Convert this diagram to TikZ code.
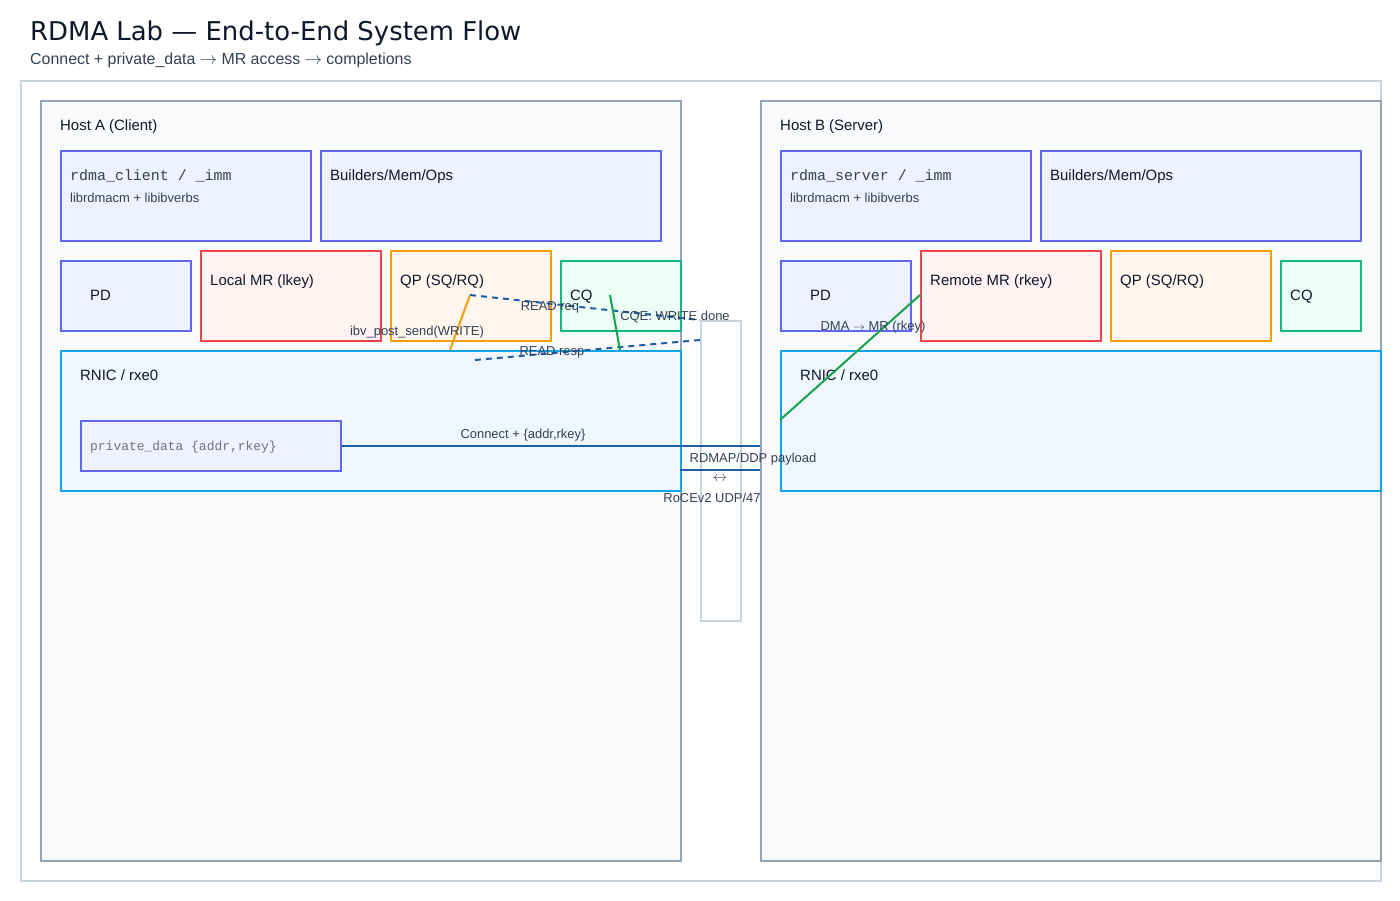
\documentclass[tikz,border=0pt]{standalone}
\usepackage{fontspec}
\setmainfont{Liberation Sans}
\setmonofont{Liberation Mono}
\newfontfamily\titlefont{DejaVu Sans}
\usepackage{tikz}
\definecolor{frameline}{HTML}{CBD5E1}
\definecolor{hostline}{HTML}{94A3B8}
\definecolor{hostfill}{HTML}{F8FAFC}
\definecolor{indigo}{HTML}{6366F1}
\definecolor{indigofill}{HTML}{EEF2FF}
\definecolor{mrred}{HTML}{EF4444}
\definecolor{mrfill}{HTML}{FEF2F2}
\definecolor{qporange}{HTML}{F59E0B}
\definecolor{qpfill}{HTML}{FFF7ED}
\definecolor{cqgreen}{HTML}{10B981}
\definecolor{cqfill}{HTML}{ECFDF5}
\definecolor{nicblue}{HTML}{0EA5E9}
\definecolor{nicfill}{HTML}{EFF6FF}
\definecolor{wire}{HTML}{1F5FA8}
\definecolor{dmagreen}{HTML}{16A34A}
\definecolor{ink}{HTML}{0F172A}
\definecolor{note}{HTML}{334155}
\definecolor{mononote}{HTML}{6B7280}
\tikzset{
  box/.style={draw, line width=1.8bp, anchor=north west, inner sep=0pt},
  head/.style={anchor=base west, inner sep=0pt, text=ink, font=\fontsize{15}{18}\selectfont},
  small/.style={anchor=base west, inner sep=0pt, text=note, font=\fontsize{13}{15}\selectfont},
  flowlbl/.style={anchor=base, inner sep=0pt, text=note, font=\fontsize{13}{15}\selectfont},
}

\begin{document}
\begin{tikzpicture}[x=1bp, y=-1bp]
    \useasboundingbox (0,0) rectangle (1400,900);
    \fill[white] (0,0) rectangle (1400,900);

    \node[anchor=base west, inner sep=0pt, text=ink, font=\titlefont\fontsize{26}{30}\selectfont] (title) at (30,40) {RDMA Lab — End-to-End System Flow};
    \node[anchor=base west, inner sep=0pt, text=note, font=\fontsize{16}{19}\selectfont] (subtitle) at (30,64) {Connect + private\_data $\rightarrow$ MR access $\rightarrow$ completions};

    \node[box, draw=frameline, fill=white, minimum width=1360bp, minimum height=800bp] (frame) at (20,80) {};
    \node[box, draw=hostline, fill=hostfill, minimum width=640bp, minimum height=760bp] (hostA) at (40,100) {};
    \node[box, draw=hostline, fill=hostfill, minimum width=620bp, minimum height=760bp] (hostB) at (760,100) {};
    \node[box, draw=frameline, fill=white, minimum width=40bp, minimum height=300bp] (link) at (700,320) {};

    \node[head] (hostAlbl) at (60,130) {Host A (Client)};
    \node[box, draw=indigo, fill=indigofill, minimum width=250bp, minimum height=90bp] (clientA) at (60,150) {};
    \node[box, draw=indigo, fill=indigofill, minimum width=340bp, minimum height=90bp] (buildA) at (320,150) {};
    \node[box, draw=indigo, fill=indigofill, minimum width=130bp, minimum height=70bp] (pdA) at (60,260) {};
    \node[box, draw=mrred, fill=mrfill, minimum width=180bp, minimum height=90bp] (mrA) at (200,250) {};
    \node[box, draw=qporange, fill=qpfill, minimum width=160bp, minimum height=90bp] (qpA) at (390,250) {};
    \node[box, draw=cqgreen, fill=cqfill, minimum width=120bp, minimum height=70bp] (cqA) at (560,260) {};
    \node[box, draw=nicblue, fill=nicfill, minimum width=620bp, minimum height=140bp] (nicA) at (60,350) {};
    \node[box, draw=indigo, fill=indigofill, minimum width=260bp, minimum height=50bp] (privA) at (80,420) {};

    \node[anchor=base west, inner sep=0pt, text=note, font=\ttfamily\fontsize{15}{18}\selectfont] (clientAlbl) at (70,180) {rdma\_client / \_imm};
    \node[small] (clientAsub) at (70,202) {librdmacm + libibverbs};
    \node[head] (buildAlbl) at (330,180) {Builders/Mem/Ops};
    \node[head] (pdAlbl) at (90,300) {PD};
    \node[head] (mrAlbl) at (210,285) {Local MR (lkey)};
    \node[head] (qpAlbl) at (400,285) {QP (SQ/RQ)};
    \node[head] (cqAlbl) at (570,300) {CQ};
    \node[head] (nicAlbl) at (80,380) {RNIC / rxe0};
    \node[anchor=base west, inner sep=0pt, text=mononote, font=\ttfamily\fontsize{13}{15}\selectfont] (privAlbl) at (90,450) {private\_data \{addr,rkey\}};

    \node[head] (hostBlbl) at (780,130) {Host B (Server)};
    \node[box, draw=indigo, fill=indigofill, minimum width=250bp, minimum height=90bp] (serverB) at (780,150) {};
    \node[box, draw=indigo, fill=indigofill, minimum width=320bp, minimum height=90bp] (buildB) at (1040,150) {};
    \node[box, draw=indigo, fill=indigofill, minimum width=130bp, minimum height=70bp] (pdB) at (780,260) {};
    \node[box, draw=mrred, fill=mrfill, minimum width=180bp, minimum height=90bp] (mrB) at (920,250) {};
    \node[box, draw=qporange, fill=qpfill, minimum width=160bp, minimum height=90bp] (qpB) at (1110,250) {};
    \node[box, draw=cqgreen, fill=cqfill, minimum width=80bp, minimum height=70bp] (cqB) at (1280,260) {};
    \node[box, draw=nicblue, fill=nicfill, minimum width=600bp, minimum height=140bp] (nicB) at (780,350) {};

    \node[anchor=base west, inner sep=0pt, text=note, font=\ttfamily\fontsize{15}{18}\selectfont] (serverBlbl) at (790,180) {rdma\_server / \_imm};
    \node[small] (serverBsub) at (790,202) {librdmacm + libibverbs};
    \node[head] (buildBlbl) at (1050,180) {Builders/Mem/Ops};
    \node[head] (pdBlbl) at (810,300) {PD};
    \node[head] (mrBlbl) at (930,285) {Remote MR (rkey)};
    \node[head] (qpBlbl) at (1120,285) {QP (SQ/RQ)};
    \node[head] (cqBlbl) at (1290,300) {CQ};
    \node[head] (nicBlbl) at (800,380) {RNIC / rxe0};

    \coordinate (qpAtap) at (470,295);
    \coordinate (nicApost) at (450,350);
    \coordinate (linkreq) at (700,320);
    \coordinate (linkresp) at (700,340);
    \coordinate (nicAresp) at (475,360);
    \coordinate (cqAtap) at (610,295);
    \coordinate (nicAcqe) at (620,350);
    \coordinate (mrBtap) at (920,295);
    \coordinate (nicBdma) at (780,420);
    \coordinate (nicAwire) at (680,470);
    \coordinate (hostBwire) at (760,470);

    \draw[qporange, line width=2bp] (qpAtap) -- (nicApost);
    \draw[wire, line width=2bp, dash pattern=on 6bp off 5bp] (qpAtap) -- (linkreq);
    \draw[wire, line width=2bp, dash pattern=on 6bp off 5bp] (linkresp) -- (nicAresp);
    \draw[dmagreen, line width=2bp] (cqAtap) -- (nicAcqe);
    \draw[dmagreen, line width=2bp] (mrBtap) -- (nicBdma);
    \draw[wire, line width=2bp] (privA.east) -- (hostB.west |- privA.east);
    \draw[wire, line width=2bp] (nicAwire) -- (hostBwire);

    \node[flowlbl] (postlbl) at (417,335) {ibv\_post\_send(WRITE)};
    \node[flowlbl] (reqlbl) at (550,310) {READ req};
    \node[flowlbl] (cqelbl) at (675,320) {CQE: WRITE done};
    \node[flowlbl] (resplbl) at (552,355) {READ resp};
    \node[flowlbl] (dmalbl) at (873,330) {DMA $\rightarrow$ MR (rkey)};
    \node[flowlbl] (connlbl) at (523,438) {Connect + \{addr,rkey\}};
    \node[flowlbl] (rdmaplbl) at (753,462) {RDMAP/DDP payload};
    \node[flowlbl, font=\fontsize{15}{18}\selectfont] (bothlbl) at (720,481) {$\leftrightarrow$};
    \node[flowlbl] (rocelbl) at (712,502) {RoCEv2 UDP/47};
\end{tikzpicture}
\end{document}
